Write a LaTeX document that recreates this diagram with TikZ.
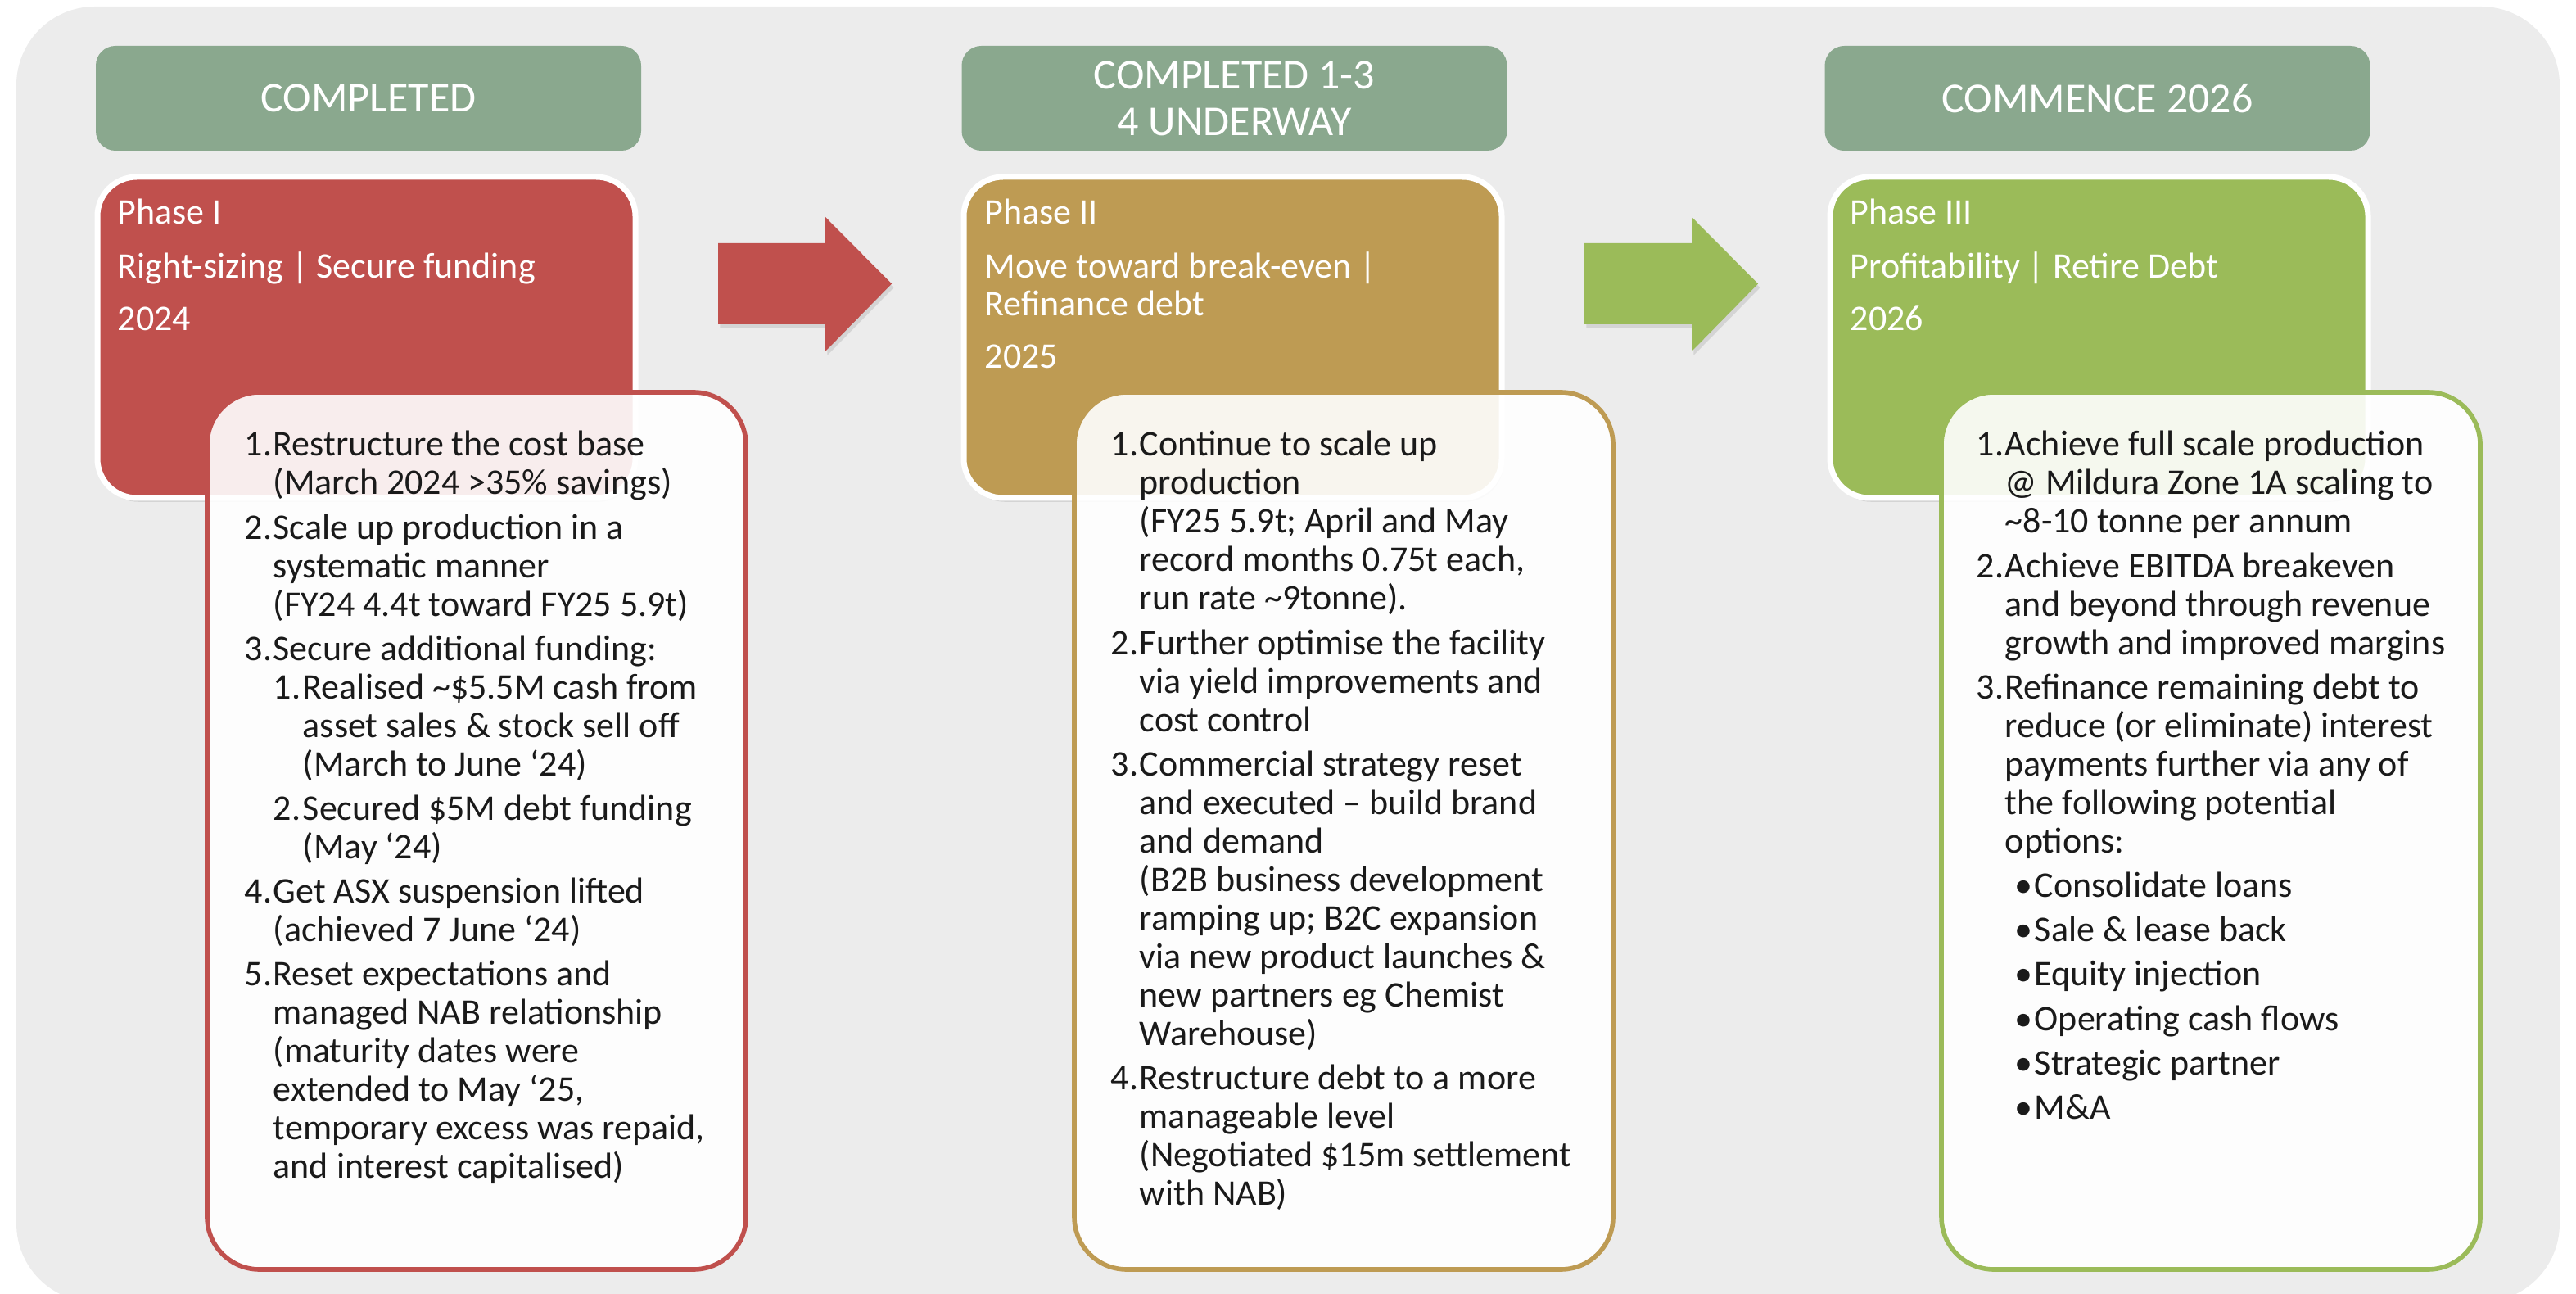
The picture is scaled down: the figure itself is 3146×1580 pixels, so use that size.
\documentclass[tikz,border=0pt]{standalone}
\usepackage{fontspec}
\setmainfont{Carlito}
\usepackage{enumitem}
\usetikzlibrary{shadows}
\definecolor{bg}{HTML}{ECECEC}
\definecolor{hdr}{HTML}{8AA88E}
\definecolor{pred}{HTML}{C0504D}
\definecolor{pgold}{HTML}{BE9B53}
\definecolor{pgreen}{HTML}{9BBB59}
\definecolor{txt}{HTML}{1A1A1A}
\setlist[enumerate,1]{label=\arabic*., leftmargin=8.75pt, labelwidth=8.5pt, labelsep=0.25pt, align=left, topsep=0pt, partopsep=0pt, parsep=0pt, itemsep=1.8pt}
\setlist[enumerate,2]{label=\arabic*., leftmargin=9pt, labelwidth=8.75pt, labelsep=0.25pt, align=left, topsep=0pt, partopsep=0pt, parsep=0pt, itemsep=1.8pt}
\setlist[itemize,1]{label=\textbullet, leftmargin=9pt, labelwidth=5.75pt, labelsep=0.25pt, align=left, topsep=1.8pt, partopsep=0pt, parsep=0pt, itemsep=1.8pt}
\newcommand{\bodyfont}{\fontsize{11}{11.75}\selectfont}
\tikzset{
  hdrbox/.style={fill=hdr, rounded corners=6pt, text=white, align=center,
    minimum width=166.5pt, minimum height=32pt, inner sep=0pt,
    font=\fontsize{13}{14.25}\selectfont},
  phasebox/.style={draw=white, line width=1.75pt, rounded corners=12pt,
    minimum width=164.25pt, minimum height=98pt, inner sep=0pt,
    drop shadow={shadow xshift=0.6pt, shadow yshift=-1.2pt, opacity=0.22}},
  phasetxt/.style={anchor=base west, text=white, inner sep=0pt,
    font=\fontsize{11}{11.75}\selectfont},
  detbox/.style={fill=white, fill opacity=0.9, line width=1.4pt, rounded corners=16pt,
    minimum width=164.5pt, minimum height=267.75pt, inner sep=0pt},
  dettxt/.style={anchor=base west, text=txt, inner sep=0pt, font=\bodyfont},
  blockarrow/.style={drop shadow={shadow xshift=0.6pt, shadow yshift=-1.2pt, opacity=0.22}}
}
\begin{document}
\begin{tikzpicture}[x=0.25pt,y=-0.25pt]
\useasboundingbox (0,0) rectangle (3146,1580);
\fill[bg, rounded corners=24pt] (20,8) rectangle (3126,1590);

% headers
\node[hdrbox] (h1) at (450,120) {COMPLETED};
\node[hdrbox] (h2) at (1507.5,120) {COMPLETED 1-3\\4 UNDERWAY};
\node[hdrbox] (h3) at (2561.5,120) {COMMENCE 2026};

% phase boxes
\node[phasebox, fill=pred] (p1) at (447.5,412) {};
\node[phasebox, fill=pgold] (p2) at (1505.5,412) {};
\node[phasebox, fill=pgreen] (p3) at (2563.5,412) {};

\node[phasetxt] (p1a) at (143,274) {Phase I};
\node[phasetxt] (p1b) at (143,340) {Right-sizing | Secure funding};
\node[phasetxt] (p1c) at (143,404) {2024};

\node[phasetxt] (p2a) at (1202,274) {Phase II};
\node[phasetxt] (p2b) at (1202,340) {Move toward break-even |};
\node[phasetxt] (p2c) at (1202,386) {Refinance debt};
\node[phasetxt] (p2d) at (1202,450) {2025};

\node[phasetxt] (p3a) at (2259,274) {Phase III};
\node[phasetxt] (p3b) at (2259,340) {Profitability | Retire Debt};
\node[phasetxt] (p3c) at (2259,404) {2026};

% arrows
\fill[pred, blockarrow] (877,297) -- (1008,297) -- (1008,265) -- (1089,346.5) -- (1008,429) -- (1008,396) -- (877,396) -- cycle;
\fill[pgreen, blockarrow] (1935,297) -- (2066,297) -- (2066,265) -- (2147,346.5) -- (2066,429) -- (2066,396) -- (1935,396) -- cycle;

% detail boxes
\node[detbox, draw=pred] (d1) at (582,1014.5) {};
\node[detbox, draw=pgold] (d2) at (1641,1014.5) {};
\node[detbox, draw=pgreen] (d3) at (2700,1014.5) {};

\node[dettxt] (t1) at (298,557) {\begin{minipage}[t]{170pt}\raggedright
\begin{enumerate}
\item Restructure the cost base\newline (March 2024 >35\% savings)
\item Scale up production in a\newline systematic manner\newline (FY24 4.4t toward FY25 5.9t)
\item Secure additional funding:
  \begin{enumerate}
  \item Realised \textasciitilde\$5.5M cash from\newline asset sales \& stock sell off\newline (March to June ‘24)
  \item Secured \$5M debt funding\newline (May ‘24)
  \end{enumerate}
\item Get ASX suspension lifted\newline (achieved 7 June ‘24)
\item Reset expectations and\newline managed NAB relationship\newline (maturity dates were\newline extended to May ‘25,\newline temporary excess was repaid,\newline and interest capitalised)
\end{enumerate}
\end{minipage}};

\node[dettxt] (t2) at (1356,557) {\begin{minipage}[t]{170pt}\raggedright
\begin{enumerate}
\item Continue to scale up\newline production\newline (FY25 5.9t; April and May\newline record months 0.75t each,\newline run rate \textasciitilde9tonne).
\item Further optimise the facility\newline via yield improvements and\newline cost control
\item Commercial strategy reset\newline and executed – build brand\newline and demand\newline (B2B business development\newline ramping up; B2C expansion\newline via new product launches \&\newline new partners eg Chemist\newline Warehouse)
\item Restructure debt to a more\newline manageable level\newline (Negotiated \$15m settlement\newline with NAB)
\end{enumerate}
\end{minipage}};

\node[dettxt] (t3) at (2413,557) {\begin{minipage}[t]{170pt}\raggedright
\begin{enumerate}
\item Achieve full scale production\newline @ Mildura Zone 1A scaling to\newline \textasciitilde8-10 tonne per annum
\item Achieve EBITDA breakeven\newline and beyond through revenue\newline growth and improved margins
\item Refinance remaining debt to\newline reduce (or eliminate) interest\newline payments further via any of\newline the following potential\newline options:
  \begin{itemize}
  \item Consolidate loans
  \item Sale \& lease back
  \item Equity injection
  \item Operating cash flows
  \item Strategic partner
  \item M\&A
  \end{itemize}
\end{enumerate}
\end{minipage}};
\end{tikzpicture}
\end{document}
